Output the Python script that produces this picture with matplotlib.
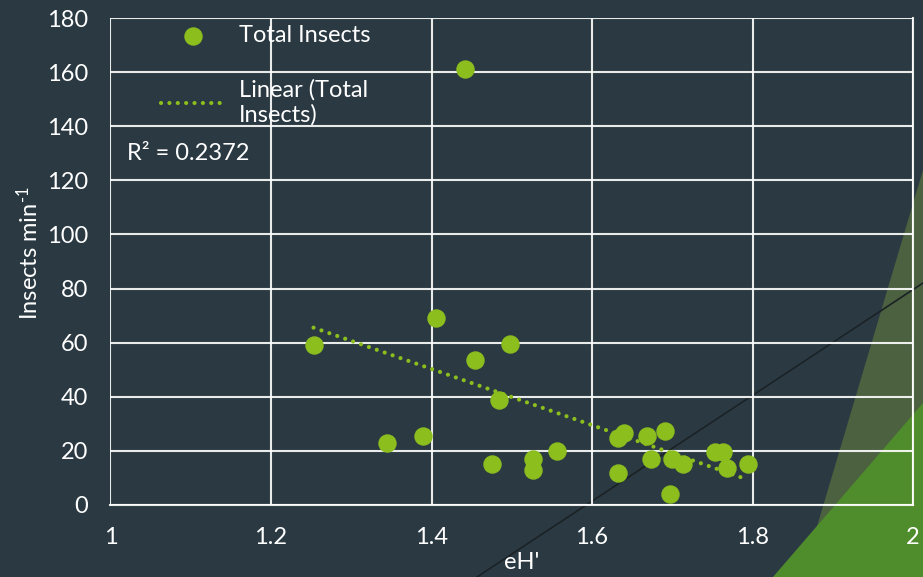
import matplotlib
matplotlib.use("Agg")
import matplotlib.pyplot as plt
from matplotlib.patches import Polygon
from matplotlib.lines import Line2D
import numpy as np

# readings of eH' against total insects per minute
eh = [1.253, 1.344, 1.389, 1.406, 1.442, 1.454, 1.476, 1.484, 1.498, 1.527,
      1.526, 1.556, 1.632, 1.633, 1.640, 1.668, 1.691, 1.674, 1.697, 1.700,
      1.713, 1.753, 1.763, 1.768, 1.794]
insects = [59.1, 22.9, 25.5, 69.1, 161.1, 53.6, 15.2, 38.8, 59.5, 17.0,
           12.9, 20.0, 11.7, 24.6, 26.7, 25.5, 27.5, 17.1, 4.2, 16.9,
           15.2, 19.5, 19.5, 13.6, 15.0]
r2_label = "R² = 0.2372"
x_ticks = [1, 1.2, 1.4, 1.6, 1.8, 2]
y_ticks = [0, 20, 40, 60, 80, 100, 120, 140, 160, 180]

bg = "#2b3a42"
green = "#8cbe1e"
plt.rcParams['font.family'] = ['Lato', 'DejaVu Sans']
plt.rcParams['mathtext.fontset'] = 'custom'
plt.rcParams['mathtext.rm'] = 'Lato'
plt.rcParams['mathtext.default'] = 'regular'

fig = plt.figure(figsize=(9.23, 5.77), dpi=100)
fig.patch.set_facecolor(bg)

# slide decoration behind the chart
W, H = 923, 577
def fpoly(pts, **kw):
    p = Polygon([(x / W, 1 - y / H) for x, y in pts], closed=True,
                transform=fig.transFigure, **kw)
    fig.patches.append(p)
fpoly([(802, 577), (923, 170), (923, 577)], facecolor="#4b6140", edgecolor="none", zorder=-2)
fpoly([(773, 577), (923, 403), (923, 577)], facecolor="#4f8c2b", edgecolor="none", zorder=-1)
fig.lines.append(Line2D([477 / W, 1.0], [0, 1 - 283 / H], transform=fig.transFigure,
                        color="#1a2226", lw=1.2, zorder=-1))

ax = fig.add_axes([0.1197, 0.1248, 0.8695, 0.844])
ax.set_facecolor("none")

ax.scatter(eh, insects, s=150, color=green, zorder=3, label="Total Insects")

# linear trendline
coef = np.polyfit(eh, insects, 1)
xs = np.array([min(eh), max(eh)])
ax.plot(xs, np.polyval(coef, xs), linestyle=(0, (0.01, 2.0)), color=green, lw=3,
        dash_capstyle="round", zorder=2, label="Linear (Total\nInsects)")

ax.set_xlim(1, 2)
ax.set_ylim(0, 180)
ax.set_xticks(x_ticks)
ax.set_xticklabels([f"{t:g}" for t in x_ticks])
ax.set_yticks(y_ticks)
ax.grid(True, color="white", lw=1.5, alpha=0.9, zorder=1)
ax.set_axisbelow(True)
for s in ["top", "left"]:
    ax.spines[s].set_visible(False)
for s in ["bottom", "right"]:
    ax.spines[s].set_color("white")
    ax.spines[s].set_linewidth(1.5)
    ax.spines[s].set_alpha(0.9)
ax.tick_params(colors="white", labelsize=17, length=0)
ax.tick_params(axis="x", pad=16)
ax.tick_params(axis="y", pad=16)

ax.set_xlabel("eH'", color="white", fontsize=17, va="center")
ax.xaxis.set_label_coords(0.512, -0.119)
ax.set_ylabel("Insects min$^{\u20101}$", color="white", fontsize=17)
ax.yaxis.set_label_coords(-0.086, 0.517)

ax.text(1.021, 130, r2_label, color="white", fontsize=17, va="center")

leg = ax.legend(loc="upper left", bbox_to_anchor=(161 / W, 1 - 25 / H),
                bbox_transform=fig.transFigure, frameon=False, fontsize=17,
                labelcolor="white", handlelength=2.7, handletextpad=0.6,
                borderpad=0, borderaxespad=0, labelspacing=1.4)

fig.savefig("out.png", dpi=100, facecolor=bg)
